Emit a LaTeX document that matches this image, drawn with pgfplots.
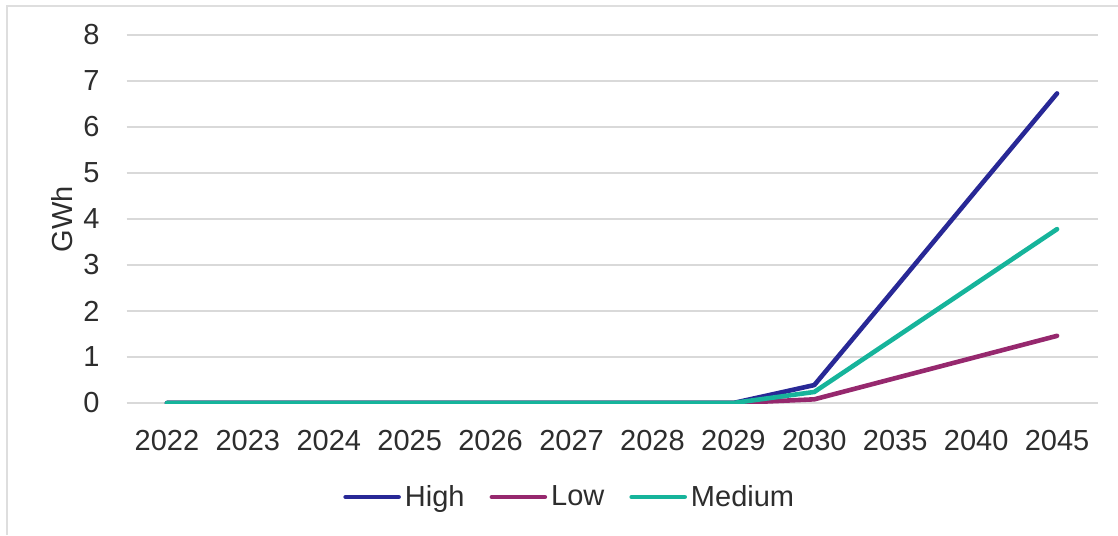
\documentclass[border=0pt]{standalone}
\usepackage{pgfplots}
\pgfplotsset{compat=1.18}
\usepackage{fontspec}
\setmainfont{Liberation Sans}
\definecolor{cHigh}{RGB}{40,40,150}
\definecolor{cLow}{RGB}{150,40,110}
\definecolor{cMed}{RGB}{22,180,155}
\definecolor{gridc}{RGB}{217,217,217}
\definecolor{txt}{RGB}{45,45,45}
\definecolor{framec}{RGB}{222,222,222}
\newcommand{\f}{\fontsize{14.5}{17.4}\selectfont}
\begin{document}
\begin{tikzpicture}
\path[use as bounding box] (0,0) rectangle (559pt,-267.5pt);
\draw[framec, line width=0.8pt] (3.5pt,-267.5pt) -- (3.5pt,-3pt) -- (559pt,-3pt);
\begin{axis}[
  at={(63.25pt,-201.5pt)}, anchor=south west,
  scale only axis, width=485.5pt, height=184pt,
  xmin=-0.5, xmax=11.5, ymin=0, ymax=8,
  axis line style={draw=none},
  xtick={0,...,11},
  xticklabels={2022,2023,2024,2025,2026,2027,2028,2029,2030,2035,2040,2045},
  ytick={0,...,8},
  major tick length=0pt,
  xmajorgrids=false, ymajorgrids=true,
  major grid style={draw=gridc, line width=0.75pt},
  /pgf/number format/assume math mode=true,
  tick label style={font=\f, text=txt, inner sep=0pt},
  yticklabel style={anchor=east, xshift=-13.25pt},
  xticklabel style={anchor=north, yshift=-13.5pt},
  ylabel={GWh},
  label style={font=\f, text=txt},
  ylabel style={at={(axis description cs:-0.0664,0.5)}, anchor=center},
  legend columns=3,
  legend style={at={(axis description cs:0.4575,-0.2554)}, anchor=center, draw=none, fill=none, font=\f, text=txt,
    /tikz/every even column/.append style={column sep=10.5pt}},
  legend image code/.code={\draw[#1, line width=2.3pt, line cap=round] (0pt,0pt) -- (26.5pt,0pt);},
  every axis plot/.append style={line width=2.3pt, line cap=round, line join=round},
]
\addplot[cHigh, mark=none] coordinates {(0,0)(1,0)(2,0)(3,0)(4,0)(5,0)(6,0)(7,0)(8,0.39)(9,2.50)(10,4.62)(11,6.73)};
\addlegendentry{High}
\addplot[cLow, mark=none] coordinates {(0,0)(1,0)(2,0)(3,0)(4,0)(5,0)(6,0)(7,0)(8,0.08)(9,0.54)(10,1.00)(11,1.46)};
\addlegendentry{Low}
\addplot[cMed, mark=none] coordinates {(0,0)(1,0)(2,0)(3,0)(4,0)(5,0)(6,0)(7,0)(8,0.24)(9,1.42)(10,2.60)(11,3.78)};
\addlegendentry{Medium}
\end{axis}
\end{tikzpicture}
\end{document}
